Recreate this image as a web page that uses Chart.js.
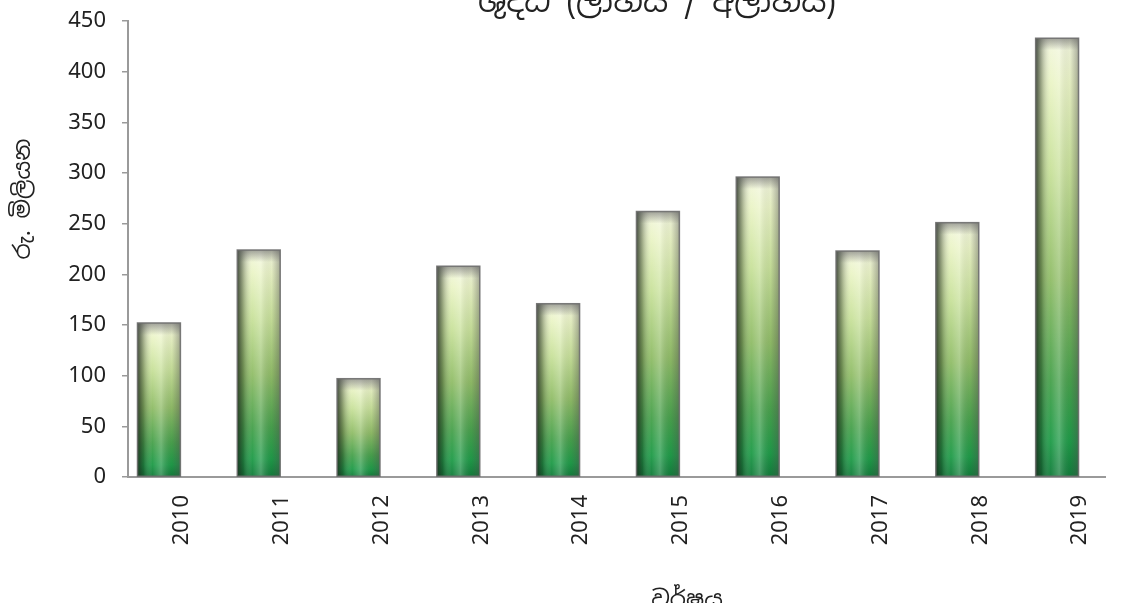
<!DOCTYPE html>
<html>
<head>
<meta charset="utf-8">
<script src="https://cdn.jsdelivr.net/npm/chart.js@4.4.1/dist/chart.umd.min.js"></script>
<style>
  html, body { margin: 0; padding: 0; background: #fff; }
  #wrap { width: 1124px; height: 603px; }
</style>
</head>
<body>
<div id="wrap"><canvas id="myChart"></canvas></div>
<script>
const years = [2010, 2011, 2012, 2013, 2014, 2015, 2016, 2017, 2018, 2019];
const netValues = [152, 224, 97, 208, 171, 262, 296, 223, 251, 433];
const yTicks = [0, 50, 100, 150, 200, 250, 300, 350, 400, 450];

const chartTitle = 'ශුද්ධ (ලාභය / අලාභය)';
const yTitle = 'රු. මිලියන';
const xTitle = 'වර්ෂය';

const sinhalaFont = "'Noto Sans Sinhala', 'Iskoola Pota', 'Noto Sans', sans-serif";
const tickFont = { family: "'Noto Sans', 'Open Sans', sans-serif", size: 22 };
const axisGrey = '#9a9a9a';

// vertical fill per bar: green foot, pale top
function barFill(c) {
  const chart = c.chart;
  const yScale = chart.scales.y;
  if (!yScale || !c.parsed) return '#8fbd68';
  const top = yScale.getPixelForValue(c.parsed.y);
  const base = yScale.getPixelForValue(0);
  if (!isFinite(top) || !isFinite(base)) return '#8fbd68';
  const g = chart.ctx.createLinearGradient(0, base, 0, top);
  g.addColorStop(0, '#0f7a38');
  g.addColorStop(0.08, '#1c9a46');
  g.addColorStop(0.22, '#45a04a');
  g.addColorStop(0.45, '#8fbc66');
  g.addColorStop(0.7, '#c8e19a');
  g.addColorStop(0.9, '#eaf4c6');
  g.addColorStop(1, '#f3f7df');
  return g;
}

// cylinder-like side shading and outline over each bar
const cylinderShade = {
  id: 'cylinderShade',
  afterDatasetsDraw(chart) {
    const ctx = chart.ctx;
    chart.getDatasetMeta(0).data.forEach(bar => {
      const { x, y, base, width } = bar.getProps(['x', 'y', 'base', 'width'], true);
      const left = x - width / 2;
      const h = base - y;
      ctx.save();
      const g = ctx.createLinearGradient(left, 0, left + width, 0);
      g.addColorStop(0, 'rgba(30,40,30,0.8)');
      g.addColorStop(0.14, 'rgba(30,40,30,0.35)');
      g.addColorStop(0.35, 'rgba(255,255,255,0.05)');
      g.addColorStop(0.55, 'rgba(255,255,255,0.25)');
      g.addColorStop(0.8, 'rgba(80,80,80,0.05)');
      g.addColorStop(1, 'rgba(80,80,80,0.45)');
      ctx.fillStyle = g;
      ctx.fillRect(left, y, width, h);
      const cap = ctx.createLinearGradient(0, y, 0, y + 12);
      cap.addColorStop(0, 'rgba(90,90,90,0.55)');
      cap.addColorStop(1, 'rgba(90,90,90,0)');
      ctx.fillStyle = cap;
      ctx.fillRect(left, y, width, Math.min(12, h));
      ctx.strokeStyle = 'rgba(110,110,110,0.9)';
      ctx.lineWidth = 1.5;
      ctx.strokeRect(left, y, width, h);
      ctx.restore();
    });
  }
};

// titles (the picture is cropped, so the main and x titles sit on the edges)
const titleText = {
  id: 'titleText',
  afterDraw(chart) {
    const ctx = chart.ctx;
    ctx.save();
    ctx.fillStyle = '#222';
    ctx.textAlign = 'center';
    ctx.textBaseline = 'alphabetic';
    ctx.font = '31px ' + sinhalaFont;
    ctx.fillText(chartTitle, 657, 12);
    ctx.font = '23px ' + sinhalaFont;
    ctx.fillText(xTitle, 687, 607);
    ctx.translate(24, 199);
    ctx.rotate(-Math.PI / 2);
    ctx.textBaseline = 'middle';
    ctx.fillText(yTitle, 0, 0);
    ctx.restore();
  }
};

const ctx = document.getElementById('myChart').getContext('2d');

new Chart(ctx, {
  type: 'bar',
  data: {
    datasets: [{
      data: years.map((yr, i) => ({ x: yr, y: netValues[i] })),
      backgroundColor: barFill,
      borderWidth: 0,
      barPercentage: 0.43,
      categoryPercentage: 1
    }]
  },
  options: {
    responsive: true,
    maintainAspectRatio: false,
    animation: false,
    layout: { padding: { top: 21, right: 19, bottom: 0, left: 0 } },
    plugins: {
      legend: { display: false },
      title: { display: false },
      tooltip: { enabled: false }
    },
    scales: {
      x: {
        type: 'linear',
        bounds: 'data',
        offset: false,
        min: 2009.69,
        max: 2019.48,
        afterBuildTicks: s => { s.ticks = years.map(v => ({ value: v })); },
        afterFit: s => { s.height = 126; s.paddingTop = 0; },
        ticks: {
          callback: v => String(v),
          autoSkip: false,
          minRotation: 90,
          maxRotation: 90,
          padding: 18,
          labelOffset: 23,
          color: '#222',
          font: tickFont
        },
        grid: { offset: false, drawOnChartArea: false, drawTicks: false },
        border: { display: true, color: axisGrey, width: 2 }
      },
      y: {
        min: 0,
        max: 450,
        afterBuildTicks: s => { s.ticks = yTicks.map(v => ({ value: v })); },
        afterFit: s => { s.width = 128; s.paddingTop = 0; },
        ticks: {
          padding: 16,
          color: '#222',
          font: tickFont
        },
        grid: { drawOnChartArea: false, drawTicks: true, tickLength: 6, color: axisGrey, lineWidth: 1.5 },
        border: { display: true, color: axisGrey, width: 2 }
      }
    }
  },
  plugins: [cylinderShade, titleText]
});
</script>
</body>
</html>
